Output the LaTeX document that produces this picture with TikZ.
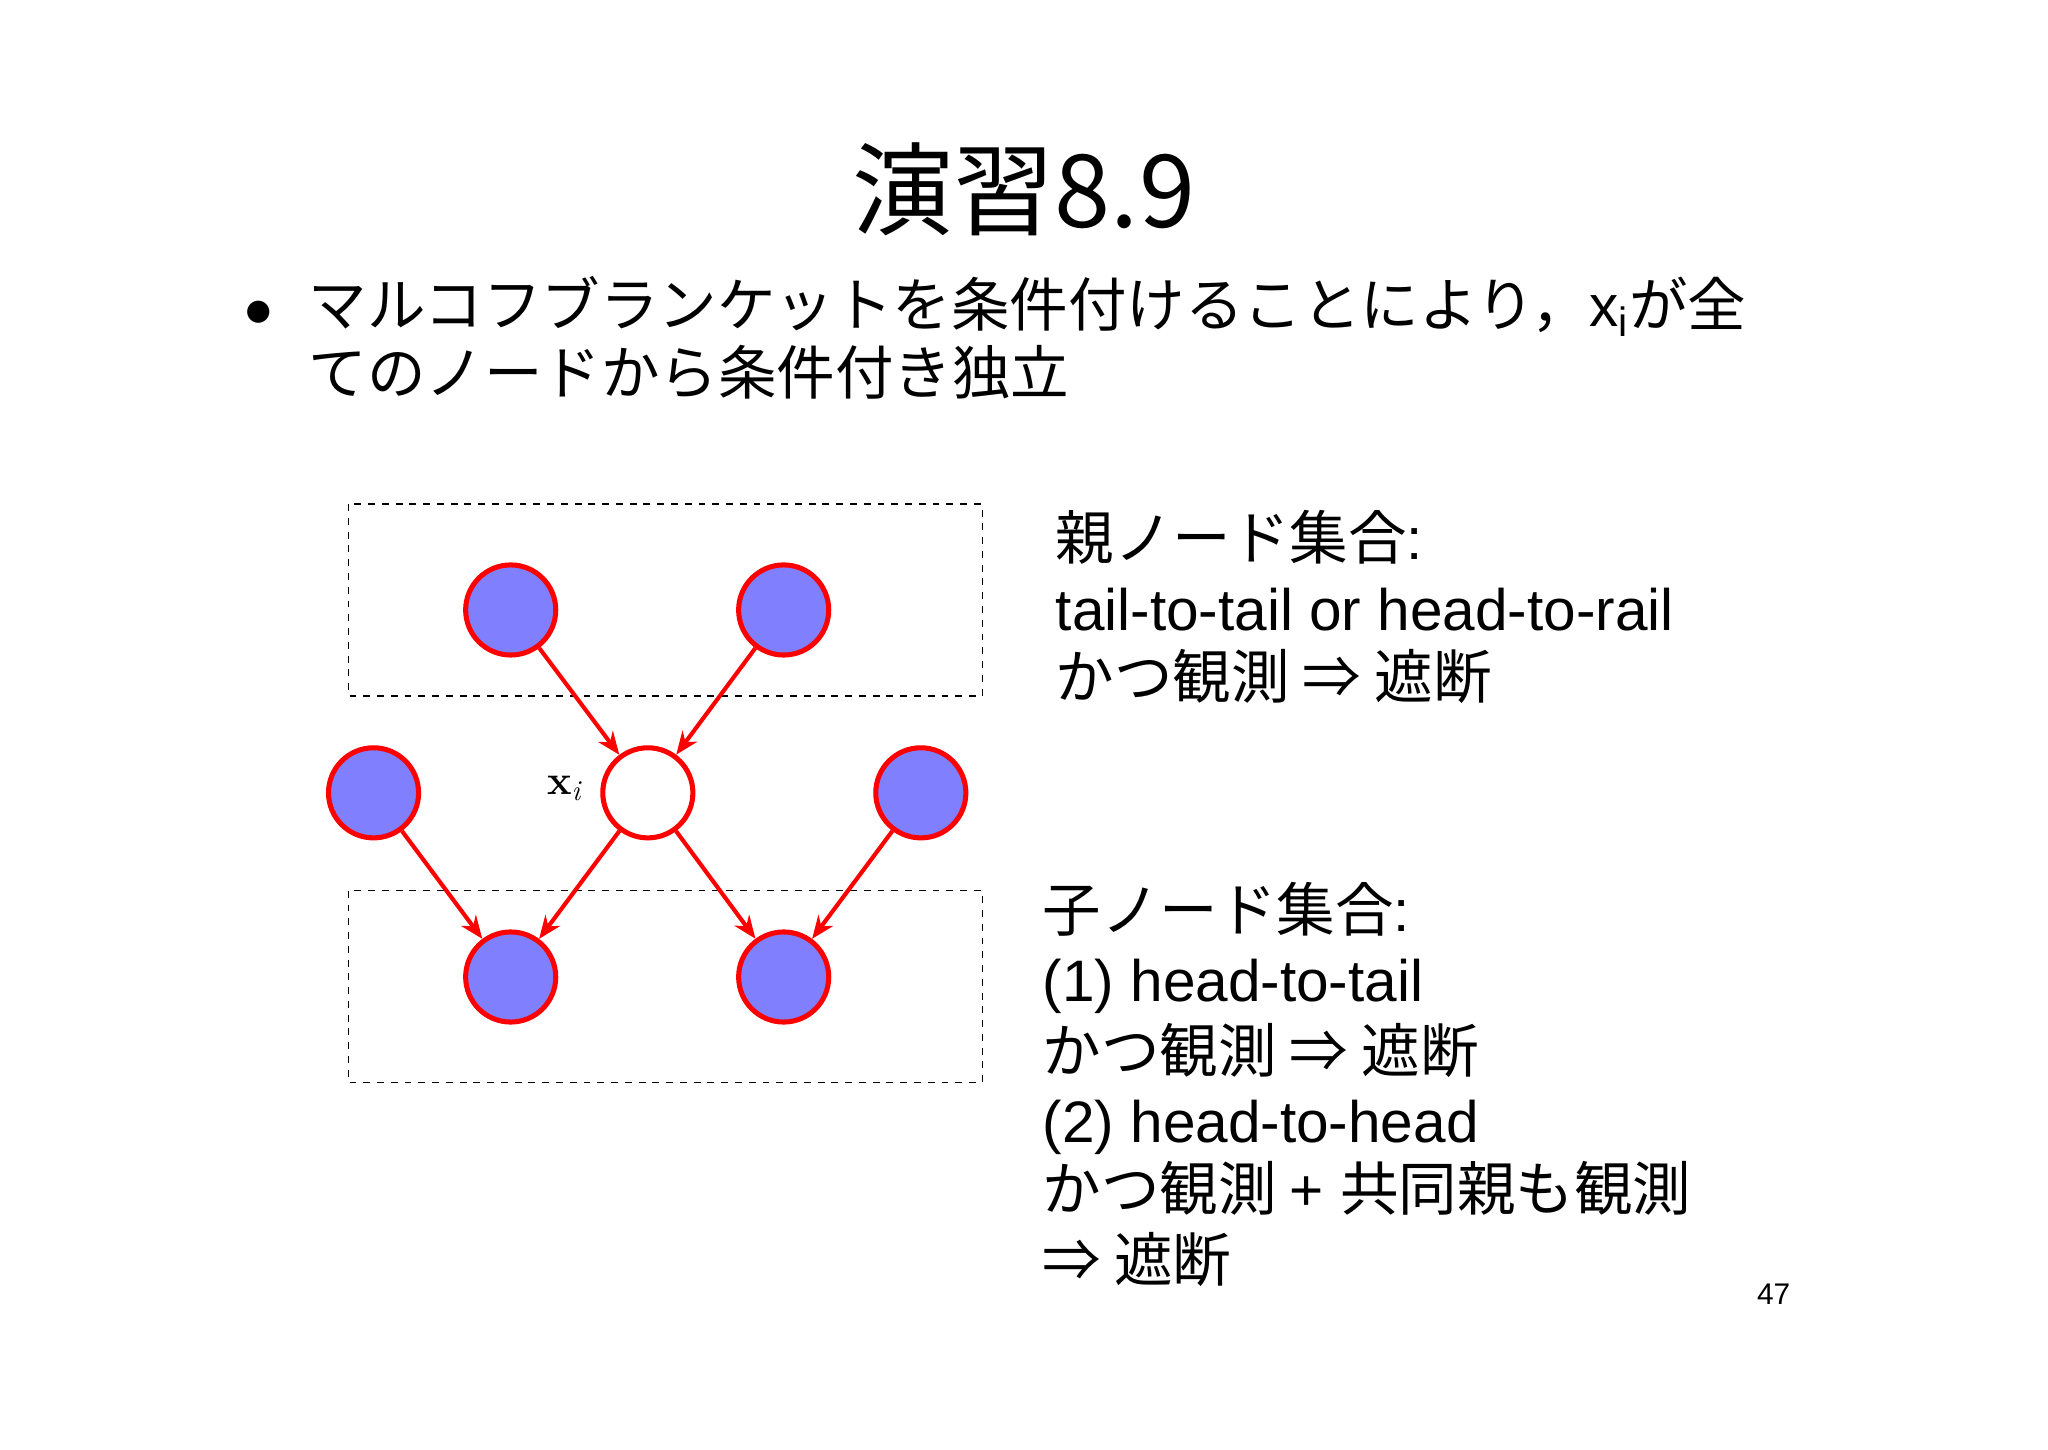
\documentclass[tikz,border=0pt]{standalone}
\usepackage{fontspec}
\setmainfont{Liberation Sans}
\newfontfamily\cjk{Noto Sans CJK JP}
\newfontfamily\lmr{Latin Modern Roman}
\usetikzlibrary{arrows.meta}
\begin{document}
\begin{tikzpicture}[x=0.02cm,y=-0.02cm,
  obs/.style={circle,draw=red,line width=2.2pt,fill={rgb,255:red,128;green,128;blue,255},minimum size=1.38cm,inner sep=0pt},
  lat/.style={circle,draw=red,line width=2.2pt,fill=white,minimum size=1.38cm,inner sep=0pt},
  edge/.style={red,line width=1.8pt,-{Stealth[length=10pt,width=8pt]}},
  box/.style={draw,dashed,line width=0.6pt},
  txt/.style={anchor=base west,inner sep=0pt,font=\fontsize{25.5}{30}\selectfont}]
\useasboundingbox (0,0) rectangle (1568,1110);
\node (title) at (784,145) {\cjk\fontsize{44}{48}\selectfont 演習8.9};
\node[txt] (b0) at (187,250) {$\bullet$};
\node[txt] (b1) at (236,250) {\cjk マルコフブランケットを条件付けることにより，\normalfont x\textsubscript{i}\cjk が全};
\node[txt] (b2) at (236,302) {\cjk てのノードから条件付き独立};
\draw[box] (267,386) rectangle (752,533);
\draw[box] (267,682) rectangle (752,829);
\node[obs] (p1) at (391,467) {};
\node[obs] (p2) at (600,467) {};
\node[lat] (x) at (496,607) {};
\node[obs] (l) at (286,607) {};
\node[obs] (r) at (705,607) {};
\node[obs] (c1) at (391,748) {};
\node[obs] (c2) at (600,748) {};
\node (xl) at (432,604) {\fontsize{18}{20}\selectfont{\lmr\bfseries x}\textsubscript{\lmr\itshape i}};
\draw[edge] (p1) -- (x);
\draw[edge] (p2) -- (x);
\draw[edge] (l) -- (c1);
\draw[edge] (x) -- (c1);
\draw[edge] (x) -- (c2);
\draw[edge] (r) -- (c2);
\node[txt] (t1) at (808,428) {\cjk 親ノード集合\normalfont:};
\node[txt] (t2) at (808,483) {tail-to-tail or head-to-rail};
\node[txt] (t3) at (808,535) {\cjk かつ観測 ⇒ 遮断};
\node[txt] (s1) at (798,713) {\cjk 子ノード集合\normalfont:};
\node[txt] (s2) at (798,767) {(1) head-to-tail};
\node[txt] (s3) at (798,821) {\cjk かつ観測 ⇒ 遮断};
\node[txt] (s4) at (798,875) {(2) head-to-head};
\node[txt] (s5) at (798,927) {\cjk かつ観測 \normalfont+ \cjk 共同親も観測};
\node[txt] (s6) at (798,981) {\cjk ⇒ 遮断};
\node (pg) at (1358,991) {\fontsize{13}{15}\selectfont 47};
\end{tikzpicture}
\end{document}
